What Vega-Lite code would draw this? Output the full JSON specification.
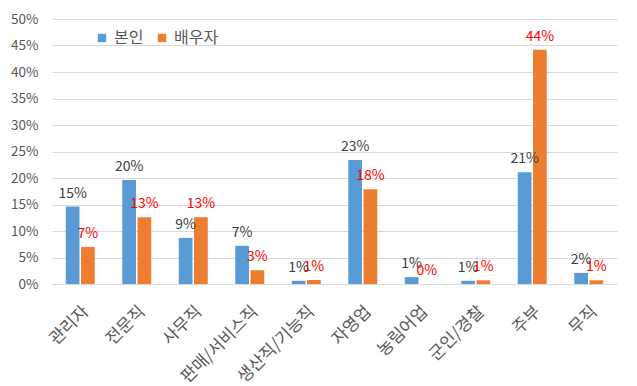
{
  "$schema": "https://vega.github.io/schema/vega-lite/v6.json",
  "autosize": {"type": "none"},
  "width": 565,
  "height": 265,
  "padding": {"left": 52, "top": 19, "right": 20, "bottom": 102},
  "background": "white",
  "config": {
    "font": "Noto Sans CJK KR",
    "view": {"stroke": null},
    "axis": {"labelFont": "Noto Sans CJK KR", "labelColor": "#595959"}
  },
  "data": {
    "values": [
      {"job": "관리자", "who": "본인", "value": 0.146},
      {"job": "관리자", "who": "배우자", "value": 0.070},
      {"job": "전문직", "who": "본인", "value": 0.196},
      {"job": "전문직", "who": "배우자", "value": 0.126},
      {"job": "사무직", "who": "본인", "value": 0.087},
      {"job": "사무직", "who": "배우자", "value": 0.126},
      {"job": "판매/서비스직", "who": "본인", "value": 0.072},
      {"job": "판매/서비스직", "who": "배우자", "value": 0.026},
      {"job": "생산직/기능직", "who": "본인", "value": 0.006},
      {"job": "생산직/기능직", "who": "배우자", "value": 0.0075},
      {"job": "자영업", "who": "본인", "value": 0.234},
      {"job": "자영업", "who": "배우자", "value": 0.179},
      {"job": "농림어업", "who": "본인", "value": 0.013},
      {"job": "농림어업", "who": "배우자", "value": 0.0},
      {"job": "군인/경찰", "who": "본인", "value": 0.006},
      {"job": "군인/경찰", "who": "배우자", "value": 0.007},
      {"job": "주부", "who": "본인", "value": 0.211},
      {"job": "주부", "who": "배우자", "value": 0.442},
      {"job": "무직", "who": "본인", "value": 0.021},
      {"job": "무직", "who": "배우자", "value": 0.007}
    ]
  },
  "encoding": {
    "x": {
      "field": "job",
      "type": "nominal",
      "sort": null,
      "scale": {"paddingInner": 0.487, "paddingOuter": 0.2435},
      "axis": {
        "title": null,
        "labelAngle": -45,
        "labelFontSize": 17,
        "labelPadding": 19,
        "ticks": false,
        "domainColor": "#d9d9d9",
        "labelColor": "#595959"
      }
    },
    "xOffset": {
      "field": "who",
      "type": "nominal",
      "sort": ["본인", "배우자"],
      "scale": {"paddingInner": 0.1}
    },
    "y": {
      "field": "value",
      "type": "quantitative",
      "scale": {"domain": [0, 0.5]},
      "axis": {
        "title": null,
        "format": ".0%",
        "values": [0, 0.05, 0.1, 0.15, 0.2, 0.25, 0.3, 0.35, 0.4, 0.45, 0.5],
        "ticks": false,
        "domain": false,
        "labelPadding": 14,
        "labelFontSize": 13.5,
        "gridColor": "#d9d9d9",
        "labelColor": "#595959"
      }
    }
  },
  "layer": [
    {
      "mark": {"type": "bar"},
      "encoding": {
        "color": {
          "field": "who",
          "type": "nominal",
          "sort": ["본인", "배우자"],
          "scale": {"domain": ["본인", "배우자"], "range": ["#5B9BD5", "#ED7D31"]},
          "legend": {
            "title": null,
            "orient": "none",
            "direction": "horizontal",
            "legendX": 42,
            "legendY": 11,
            "symbolType": "square",
            "symbolSize": 70,
            "symbolStrokeWidth": 0,
            "labelFontSize": 16,
            "labelColor": "#595959",
            "labelFont": "Noto Sans CJK KR",
            "columnPadding": 10,
            "labelOffset": 4
          }
        }
      }
    },
    {
      "mark": {"type": "text", "baseline": "bottom", "dy": -6, "fontSize": 14},
      "encoding": {
        "text": {"field": "value", "type": "quantitative", "format": ".0%"},
        "color": {
          "condition": {"test": "datum.who === '배우자'", "value": "#FF0000"},
          "value": "#404040"
        }
      }
    }
  ]
}
